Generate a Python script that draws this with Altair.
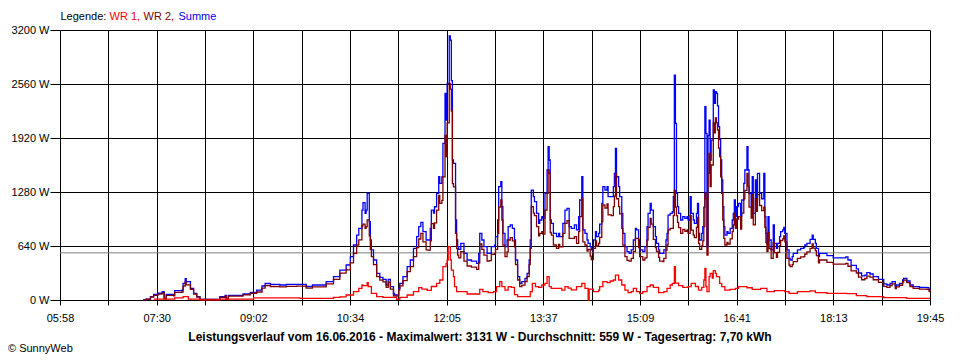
import altair as alt
import pandas as pd

FONT = "Liberation Sans"

# ---- x axis (minutes of the day) ----
x_start, x_end = 358, 1185           # 05:58 .. 19:45
x_tick_labels = ["05:58", "", "07:30", "", "09:02", "", "10:34", "", "12:05", "",
                 "13:37", "", "15:09", "", "16:41", "", "18:13", "", "19:45"]
y_ticks = [0, 640, 1280, 1920, 2560, 3200]
average_w = 559

# ---- Summe (blue) and WR 2 (dark red) share these time stamps ----
summe_time = [
    "07:17","07:20","07:24","07:27","07:31","07:35","07:36","07:37","07:39","07:46",
    "07:47","07:54","07:55","07:57","07:58","08:02","08:05","08:08","08:11","08:28",
    "08:30","08:35","08:36","08:38","08:52","08:59","09:05","09:10","09:13","09:18",
    "09:27","09:33","09:43","09:52","09:58","10:11","10:18","10:24","10:30","10:34",
    "10:37","10:40","10:42","10:45","10:46","10:48","10:49","10:50","10:52","10:53",
    "10:54","10:56","10:59","11:02","11:05","11:08","11:10","11:12","11:15","11:16",
    "11:20","11:21","11:24","11:28","11:31","11:34","11:37","11:39","11:41","11:43",
    "11:46","11:48","11:50","11:51","11:53","11:54","11:56","11:58","11:59","12:01",
    "12:02","12:04","12:05","12:06","12:08","12:09","12:10","12:11","12:12","12:14",
    "12:15","12:16","12:17","12:19","12:20","12:22","12:25","12:29","12:34","12:36",
    "12:37","12:39","12:41","12:44","12:46","12:48","12:51","12:52","12:54","12:55",
    "12:57","12:58","12:59","13:01","13:03","13:04","13:06","13:08","13:10","13:11",
    "13:13","13:15","13:17","13:20","13:22","13:24","13:25","13:26","13:28","13:29",
    "13:31","13:33","13:34","13:36","13:37","13:39","13:41","13:42","13:43","13:44",
    "13:45","13:47","13:48","13:50","13:52","13:53","13:56","13:58","14:00","14:02",
    "14:04","14:07","14:09","14:11","14:12","14:14","14:15","14:17","14:19","14:20",
    "14:22","14:23","14:25","14:27","14:28","14:30","14:31","14:33","14:34","14:36",
    "14:38","14:39","14:42","14:44","14:45","14:46","14:47","14:49","14:50","14:52",
    "14:53","14:55","14:57","14:59","15:01","15:03","15:05","15:06","15:08","15:09",
    "15:12","15:14","15:16","15:17","15:19","15:20","15:22","15:24","15:25","15:27",
    "15:28","15:31","15:32","15:34","15:35","15:36","15:38","15:40","15:41","15:42",
    "15:43","15:44","15:45","15:46","15:48","15:50","15:52","15:54","15:55","15:57",
    "15:58","16:00","16:01","16:03","16:04","16:05","16:06","16:08","16:09","16:10",
    "16:11","16:12","16:13","16:14","16:15","16:16","16:17","16:19","16:20","16:21",
    "16:22","16:23","16:24","16:25","16:26","16:27","16:28","16:29","16:30","16:32",
    "16:33","16:35","16:37","16:38","16:39","16:40","16:41","16:43","16:45","16:46",
    "16:48","16:49","16:51","16:52","16:53","16:55","16:56","16:57","16:59","17:00",
    "17:01","17:03","17:05","17:07","17:08","17:09","17:10","17:11","17:12","17:14",
    "17:16","17:17","17:19","17:20","17:22","17:23","17:25","17:26","17:27","17:29",
    "17:31","17:32","17:34","17:35","17:39","17:42","17:45","17:46","17:48","17:51",
    "17:53","17:54","17:56","17:57","17:59","18:00","18:07","18:13","18:19","18:25",
    "18:27","18:30","18:35","18:37","18:40","18:43","18:45","18:48","18:51","18:56",
    "19:01","19:04","19:07","19:09","19:12","19:13","19:16","19:19","19:20","19:23",
    "19:26","19:29","19:35","19:42","19:44","19:45",
]
summe_w = [
    0,10,40,65,80,95,100,20,65,60,
    110,118,198,253,217,138,79,40,8,5,
    40,55,10,55,71,91,118,166,198,186,
    178,186,186,160,178,217,276,355,415,513,
    652,770,850,1066,1153,1027,1066,1264,928,711,
    593,474,316,269,245,178,245,158,79,59,
    138,198,277,395,474,612,750,869,920,810,
    711,711,850,1066,1030,1105,1264,1461,1382,1460,
    1857,2449,2133,2567,3131,3080,2600,1659,1620,948,
    711,632,600,672,672,553,474,460,435,553,
    790,711,632,553,553,632,650,750,948,1343,
    1402,1106,790,632,711,869,890,850,711,474,
    277,198,217,257,316,474,711,1303,1225,1165,
    1027,909,948,988,970,1264,1541,1817,1659,948,
    909,790,790,750,790,750,909,1066,1085,869,
    850,890,830,988,1185,1461,830,790,711,672,
    632,593,711,810,750,790,900,1146,1343,1303,
    1343,1225,1225,1343,1501,1797,1461,1343,1225,1027,
    790,632,573,553,593,711,850,830,711,593,
    573,632,869,1027,1146,1066,869,750,672,593,
    553,553,593,711,790,1007,1027,1046,1225,2666,
    2094,1264,1106,1027,948,988,968,988,948,1225,
    1027,948,909,1027,1146,790,711,790,869,1100,
    2291,1975,632,1948,2133,1659,1896,2489,2331,2469,
    2449,2300,2054,1900,1659,1422,1106,869,770,810,
    790,850,948,1027,1185,988,1106,1146,988,1185,
    1382,1541,1817,1541,1264,1106,1462,1027,1422,1185,
    1501,1264,1200,1501,988,790,672,988,711,593,
    889,672,613,672,750,810,830,861,790,593,
    494,474,514,553,593,613,620,652,672,719,
    770,719,672,613,514,553,525,500,500,510,
    474,410,370,320,285,296,324,308,277,245,
    190,178,198,217,158,178,198,237,257,225,
    178,158,150,146,126,110,
]
wr2_w = [
    0,10,35,55,70,82,88,12,55,50,
    90,95,165,215,180,125,70,35,6,5,
    30,45,5,45,60,80,95,140,172,160,
    155,162,165,140,156,190,245,318,356,440,
    553,650,712,880,900,850,870,950,760,600,
    515,420,276,235,215,150,212,128,50,45,
    120,168,230,336,395,513,620,723,790,690,
    595,590,700,906,850,915,1066,1240,1145,1180,
    1460,1950,1700,2100,2567,2500,2240,1380,1340,790,
    610,533,500,573,573,460,403,390,364,440,
    664,600,533,460,466,540,550,600,790,1100,
    1185,948,650,514,570,711,740,700,630,420,
    237,158,177,217,276,420,612,1105,1030,1000,
    870,760,790,810,780,1066,1264,1541,1500,800,
    770,652,652,612,660,630,790,908,940,730,
    730,750,672,810,988,1200,690,652,580,600,
    520,480,612,700,640,672,742,930,1126,1090,
    1138,1010,1000,1106,1230,1500,1200,1106,1020,850,
    650,514,470,460,494,573,730,731,620,514,
    474,500,711,860,968,900,719,620,575,506,
    460,455,494,590,652,830,849,848,1000,1300,
    1100,1000,920,857,790,838,815,830,790,1000,
    829,770,740,860,980,672,600,640,700,870,
    1264,1200,533,1500,1738,1343,1600,2100,1980,2157,
    2100,2015,1800,1700,1460,1264,948,730,652,684,
    664,724,810,889,1030,850,960,988,840,1030,
    1200,1300,1500,1350,1100,970,1250,890,1200,1050,
    1250,1120,1060,1100,860,680,573,800,610,494,
    680,562,505,565,645,705,725,760,690,494,
    415,395,420,455,494,510,513,545,570,612,
    665,615,585,527,440,474,446,425,425,435,
    400,345,320,270,240,255,284,270,240,210,
    162,150,170,190,135,155,175,215,236,205,
    158,138,130,126,106,90,
]

# ---- WR 1 (red) ----
wr1_time = [
    "07:27","07:47","07:55","08:00","08:11","08:30","09:02","09:46","10:18","10:24",
    "10:30","10:37","10:42","10:45","10:46","10:50","10:51","10:54","10:59","11:05",
    "11:14","11:18","11:21","11:28","11:34","11:39","11:42","11:47","11:51","11:56",
    "11:59","12:02","12:05","12:06","12:07","12:09","12:10","12:12","12:13","12:15",
    "12:21","12:25","12:34","12:37","12:40","12:45","12:50","12:53","12:56","12:58",
    "13:01","13:04","13:07","13:10","13:13","13:23","13:25","13:27","13:30","13:33",
    "13:36","13:39","13:41","13:43","13:45","13:50","13:55","13:58","14:01","14:04",
    "14:09","14:14","14:17","14:20","14:21","14:25","14:30","14:31","14:34","14:38",
    "14:41","14:44","14:46","14:49","14:52","14:55","14:58","15:01","15:03","15:06",
    "15:09","15:12","15:16","15:19","15:22","15:27","15:32","15:35","15:38","15:40",
    "15:42","15:43","15:46","15:50","15:55","15:58","16:02","16:05","16:08","16:10",
    "16:11","16:12","16:13","16:15","16:16","16:18","16:19","16:21","16:22","16:25",
    "16:27","16:30","16:35","16:40","16:43","16:51","16:56","17:04","17:10","17:17",
    "17:27","17:31","17:39","17:51","17:56","18:07","18:26","18:35","18:45","19:01",
    "19:23","19:45",
]
wr1_w = [
    10,25,40,10,2,10,25,20,30,36,
    59,99,138,178,170,205,158,79,40,30,
    30,8,30,59,99,146,130,114,160,198,
    237,395,430,474,632,474,355,277,158,99,
    99,71,71,126,99,87,99,158,217,158,
    118,158,150,63,40,40,99,198,158,150,
    178,198,277,158,138,138,118,158,140,120,
    158,198,138,0,130,99,118,158,217,205,
    225,237,296,237,178,118,87,99,138,99,
    79,99,158,178,150,87,99,138,178,198,
    395,200,170,150,158,198,160,118,150,237,
    375,160,99,277,316,260,347,316,277,198,
    158,118,126,138,158,145,126,138,99,110,
    99,79,99,107,87,79,75,51,40,28,
    20,20,
]

legend_parts = ["Legende:", "WR 1,", "WR 2,", "Summe"]
legend_colors = ["#000000", "#ff0000", "#800000", "#0000ff"]
title_text = ("Leistungsverlauf vom 16.06.2016 - Maximalwert: 3131 W - "
              "Durchschnitt: 559 W - Tagesertrag: 7,70 kWh")
copyright_text = "\u00a9 SunnyWeb"


def to_minutes(hhmm):
    h, m = hhmm.split(":")
    return int(h) * 60 + int(m)


frames = [
    pd.DataFrame({"t": [to_minutes(s) for s in summe_time], "w": summe_w, "s": "Summe"}),
    pd.DataFrame({"t": [to_minutes(s) for s in summe_time], "w": wr2_w, "s": "WR 2"}),
    pd.DataFrame({"t": [to_minutes(s) for s in wr1_time], "w": wr1_w, "s": "WR 1"}),
]
df = pd.concat(frames, ignore_index=True)

step = (x_end - x_start) / (len(x_tick_labels) - 1)
x_ticks = [x_start + i * step for i in range(len(x_tick_labels))]
label_expr = ("[" + ",".join("'" + l + "'" for l in x_tick_labels) + "]"
              + f"[round((datum.value - {x_start}) / {step})]")

x_scale = alt.Scale(domain=[x_start, x_end], nice=False, zero=False)
y_scale = alt.Scale(domain=[0, 3200], nice=False)

x_axis = alt.Axis(values=x_ticks, labelExpr=label_expr, title=None, grid=True,
                  gridColor="black", gridOpacity=1, gridWidth=1, domainColor="black",
                  tickColor="black", tickSize=5, labelPadding=7, labelFont=FONT,
                  labelFontSize=11, labelColor="black", labelFlush=False,
                  labelOverlap=False)
y_axis = alt.Axis(values=y_ticks, labelExpr="datum.value + ' W'", title=None, grid=True,
                  gridColor="black", gridOpacity=1, gridWidth=1, domainColor="black",
                  tickColor="black", tickSize=10, labelPadding=1, labelFont=FONT,
                  labelFontSize=11, labelColor="black", labelFlush=False,
                  labelOverlap=False)

base = alt.Chart(df).encode(
    x=alt.X("t:Q", scale=x_scale, axis=x_axis),
    y=alt.Y("w:Q", scale=y_scale, axis=y_axis),
)

avg_rule = alt.Chart(pd.DataFrame({"avg": [average_w]})).mark_rule(
    color="#808080", strokeWidth=1
).encode(y=alt.Y("avg:Q", scale=y_scale, axis=y_axis))

line_blue = base.transform_filter("datum.s == 'Summe'").mark_line(
    color="#0000ff", strokeWidth=1.3, interpolate="step-after")
line_brown = base.transform_filter("datum.s == 'WR 2'").mark_line(
    color="#800000", strokeWidth=1.3, interpolate="step-after")
line_red = base.transform_filter("datum.s == 'WR 1'").mark_line(
    color="#ff0000", strokeWidth=1.3, interpolate="step-after")


def label(text, x, y, color="black", bold=False, align="left", size=11):
    return alt.Chart(pd.DataFrame({"txt": [text]})).mark_text(
        align=align, baseline="middle", font=FONT, fontSize=size,
        fontWeight="bold" if bold else "normal", color=color
    ).encode(x=alt.value(x), y=alt.value(y), text="txt:N")


legend_x = [0.5, 49.5, 83.5, 118.5]
legend_layers = [label(t, lx, -13, c) for t, lx, c in zip(legend_parts, legend_x, legend_colors)]

chart = alt.layer(
    avg_rule, line_blue, line_brown, line_red,
    *legend_layers,
    label(title_text, 420, 307, bold=True, align="center", size=12),
    label(copyright_text, -52, 319),
).properties(
    width=870, height=270,
    autosize=alt.AutoSizeParams(type="none"),
    padding={"left": 52, "top": 22, "right": 20, "bottom": 56},
    background="white",
).configure_view(stroke=None)

chart.save("out.html", embed_options={"renderer": "svg", "actions": False})
